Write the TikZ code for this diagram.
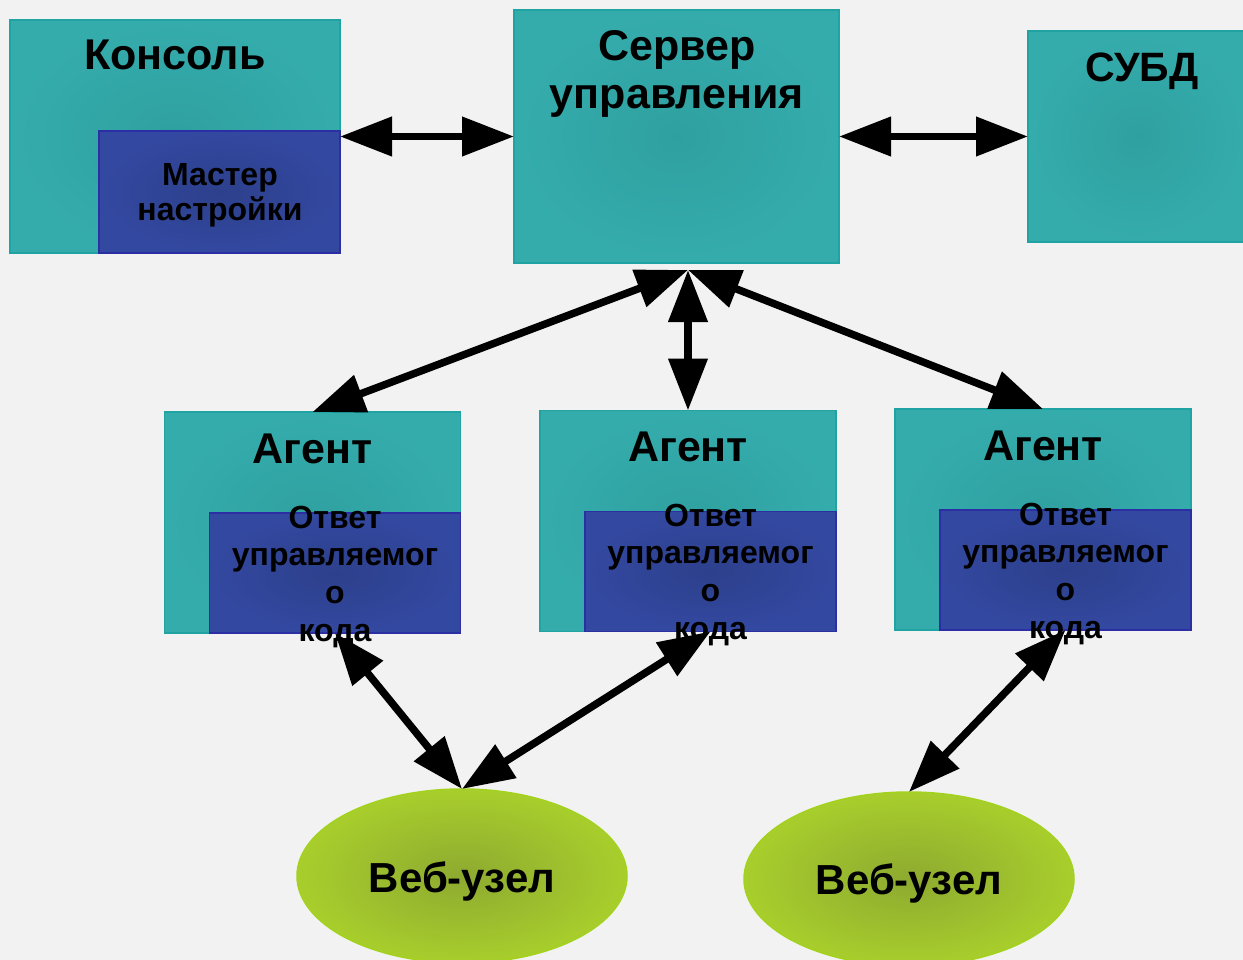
\documentclass[tikz,border=0pt]{standalone}
\usepackage{fontspec}
\setmainfont{Liberation Sans}
\usetikzlibrary{shapes.geometric,arrows.meta}
\definecolor{bgc}{HTML}{F2F2F2}
\definecolor{tealout}{HTML}{35ACAC}
\definecolor{tealin}{HTML}{2FA0A0}
\definecolor{tealedge}{HTML}{1FA3A3}
\definecolor{blueout}{HTML}{3348A0}
\definecolor{bluein}{HTML}{2D408C}
\definecolor{blueedge}{HTML}{2B2FA3}
\definecolor{greenout}{HTML}{A8CE2C}
\definecolor{greenin}{HTML}{8EAA30}
\definecolor{greenedge}{HTML}{A3D21E}
\begin{document}
\begin{tikzpicture}[x=1pt,y=-1pt,
  tealbox/.style={rectangle, draw=tealedge, line width=1.5pt, inner color=tealin, outer color=tealout, inner sep=0pt, outer sep=0pt},
  bluebox/.style={rectangle, draw=blueedge, line width=1.5pt, inner color=bluein, outer color=blueout, inner sep=0pt, outer sep=0pt},
  webnode/.style={ellipse, draw=greenedge, line width=1.5pt, inner color=greenin, outer color=greenout, inner sep=0pt, outer sep=0pt, minimum width=330pt, minimum height=174pt},
  bigtxt/.style={font=\fontsize{43}{50}\selectfont\bfseries, anchor=base, inner sep=0pt},
  smalltxt/.style={font=\fontsize{32}{38}\selectfont\bfseries, anchor=base, inner sep=0pt},
  arr/.style={line width=7.5pt, {Triangle[length=52pt,width=38pt]}-{Triangle[length=52pt,width=38pt]}}
]
\useasboundingbox (0,0) rectangle (1243,960);
\fill[bgc] (0,0) rectangle (1243,960);

% top row
\node[tealbox, minimum width=330pt, minimum height=233pt] (cons) at (175,136.5) {};
\node[bluebox, minimum width=241pt, minimum height=122pt] (mast) at (219.5,192) {};
\node[bigtxt] (consT) at (175,70) {Консоль};
\node[smalltxt] (mastT1) at (220,186) {Мастер};
\node[smalltxt] (mastT2) at (220,221) {настройки};

\node[tealbox, minimum width=325pt, minimum height=253pt] (srv) at (676.5,136.5) {};
\node[bigtxt] (srvT1) at (677,61) {Сервер};
\node[bigtxt] (srvT2) at (677,109) {управления};

\node[tealbox, minimum width=220pt, minimum height=211pt] (subd) at (1138,136.5) {};
\node[bigtxt, font=\fontsize{41}{48}\selectfont\bfseries] (subdT) at (1142,82) {СУБД};

% agents
\foreach \n/\x/\y in {1/312.5/522.5, 2/688/521, 3/1043/519.5}{
  \node[tealbox, minimum width=296pt, minimum height=221pt] (ag\n) at (\x,\y) {};
  \node[bluebox, minimum width=251pt, minimum height=120pt] (in\n) at (\x+22.5,\y+50.5) {};
  \node[bigtxt] (agT\n) at (\x,\y-59.5) {Агент};
  \node[smalltxt] (inA\n) at (\x+22.5,\y+5.5) {Ответ};
  \node[smalltxt] (inB\n) at (\x+22.5,\y+42.5) {управляемог};
  \node[smalltxt] (inC\n) at (\x+22.5,\y+80.5) {о};
  \node[smalltxt] (inD\n) at (\x+22.5,\y+118.5) {кода};
}

% web nodes
\node[webnode] (web1) at (462,876) {};
\node[webnode] (web2) at (909,879) {};
\node[bigtxt, font=\fontsize{42}{48}\selectfont\bfseries] (web1T) at (462,892) {Веб-узел};
\node[bigtxt, font=\fontsize{42}{48}\selectfont\bfseries] (web2T) at (909,894) {Веб-узел};

% connectors
\draw[arr] (cons.east) -- (srv.west);
\draw[arr] (srv.east) -- (subd.west);

\coordinate (sHub) at (688,270);
\draw[arr] (ag1.north) -- (sHub);
\draw[arr] (ag2.north) -- (sHub);
\draw[arr] (ag3.north) -- (sHub);

\draw[arr] (in1.south) -- (web1.north);
\draw[arr] (in2.south) -- (web1.north);
\draw[arr] (in3.south) -- (web2.north);
\end{tikzpicture}
\end{document}
